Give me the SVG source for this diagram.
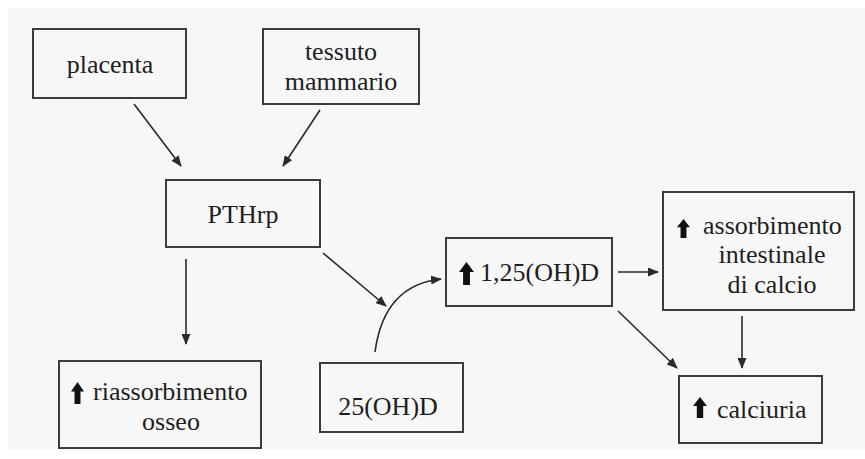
<svg xmlns="http://www.w3.org/2000/svg" width="865" height="459" viewBox="0 0 865 459">
  <style>
    .box { fill: none; stroke: #3c3c3c; stroke-width: 2; }
    text { font-family: 'Liberation Serif', 'Times New Roman', serif; font-size: 26px; fill: #1e1e1e; }
    .mid { text-anchor: middle; }
    .edge { fill: none; stroke: #2a2a2a; stroke-width: 1.6; marker-end: url(#head); }
    .up { fill: #111; }
  </style>
  <defs>
    <marker id="head" markerUnits="userSpaceOnUse" markerWidth="11" markerHeight="9" refX="10" refY="4.5" orient="auto">
      <path d="M0,0 L11,4.5 L0,9 Z" fill="#2a2a2a"/>
    </marker>
    <!-- bold "increase" arrow used inside the outcome boxes -->
    <symbol id="uparrow" viewBox="0 0 14 22" preserveAspectRatio="none">
      <path d="M7,0 L14,9.5 L10.2,9.5 L10.2,22 L3.8,22 L3.8,9.5 L0,9.5 Z"/>
    </symbol>
  </defs>

  <rect x="0" y="0" width="865" height="459" fill="#ffffff"/>
  <rect x="8" y="8" width="857" height="442" fill="#f7f7f7"/>

  <g id="connectors">
    <line class="edge" x1="134" y1="104" x2="181" y2="166"/>
    <line class="edge" x1="320" y1="110" x2="283" y2="166"/>
    <line class="edge" x1="186" y1="259" x2="186" y2="344"/>
    <line class="edge" x1="323" y1="253" x2="386" y2="306"/>
    <path class="edge" d="M375,352 Q384,285 441,279"/>
    <line class="edge" x1="618" y1="272" x2="658" y2="272"/>
    <line class="edge" x1="618" y1="311" x2="677" y2="368"/>
    <line class="edge" x1="742" y1="316" x2="742" y2="368"/>
  </g>

  <g id="placenta">
    <rect class="box" x="33" y="29" width="153" height="69"/>
    <text class="mid" x="110" y="73">placenta</text>
  </g>

  <g id="tessuto-mammario">
    <rect class="box" x="263" y="29" width="156" height="75"/>
    <text class="mid" x="341" y="60">tessuto</text>
    <text class="mid" x="341" y="90">mammario</text>
  </g>

  <g id="pthrp">
    <rect class="box" x="166" y="180" width="154" height="67"/>
    <text class="mid" x="243" y="223">PTHrp</text>
  </g>

  <g id="vitd-125">
    <rect class="box" x="446" y="238" width="166" height="68"/>
    <use href="#uparrow" class="up" x="459" y="262" width="15" height="23"/>
    <text x="480" y="281">1,25(OH)D</text>
  </g>

  <g id="assorbimento-intestinale">
    <rect class="box" x="663" y="192" width="191" height="118"/>
    <use href="#uparrow" class="up" x="677" y="219" width="13" height="19"/>
    <text x="703" y="234">assorbimento</text>
    <text class="mid" x="772" y="263">intestinale</text>
    <text class="mid" x="772" y="293">di calcio</text>
  </g>

  <g id="calciuria">
    <rect class="box" x="679" y="376" width="143" height="67"/>
    <use href="#uparrow" class="up" x="693" y="397" width="14" height="21"/>
    <text x="717" y="418">calciuria</text>
  </g>

  <g id="vitd-25">
    <rect class="box" x="320" y="363" width="143" height="69"/>
    <text class="mid" x="388" y="415">25(OH)D</text>
  </g>

  <g id="riassorbimento-osseo">
    <rect class="box" x="59" y="361" width="202" height="87"/>
    <use href="#uparrow" class="up" x="71" y="382" width="13" height="22"/>
    <text x="93" y="400">riassorbimento</text>
    <text class="mid" x="171" y="430">osseo</text>
  </g>
</svg>
